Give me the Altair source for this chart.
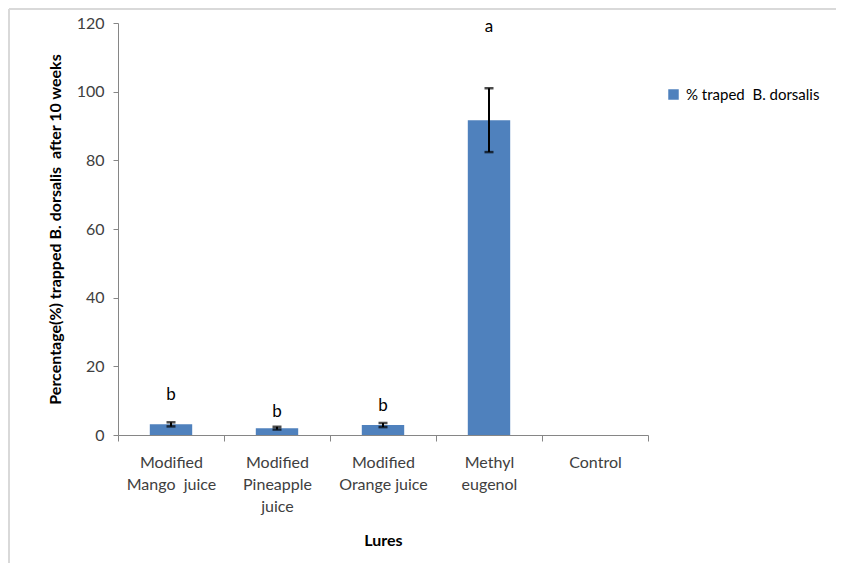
import altair as alt
import pandas as pd

lures = ["Modified\nMango\u00a0 juice", "Modified\nPineapple\njuice", "Modified\nOrange juice", "Methyl\neugenol", "Control"]
values = [3.1, 2.0, 2.9, 91.7, 0.0]
errors = [0.6, 0.4, 0.6, 9.3, 0.0]
letters = ["b", "b", "b", "a", ""]
letter_y = [11.7, 6.7, 8.4, 118.8, 0.0]
series = "% traped\u00a0 B. dorsalis"

df = pd.DataFrame({
    "Lure": lures,
    "value": values,
    "lo": [v - e for v, e in zip(values, errors)],
    "hi": [v + e for v, e in zip(values, errors)],
    "err": errors,
    "letter": letters,
    "ly": letter_y,
    "series": [series] * len(lures),
})

FONT = "Lato"
BLUE = "#4F81BD"

x = alt.X(
    "Lure:N", sort=lures, title="Lures",
    scale=alt.Scale(paddingInner=0, paddingOuter=0),
    axis=alt.Axis(
        labelExpr="split(datum.label, '\\n')", labelAngle=0, labelLineHeight=22,
        labelFontSize=16, labelColor="#404040", labelFont=FONT, labelPadding=13,
        labelBaseline="top",
        tickBand="extent", tickSize=6, tickColor="#868686", domainColor="#868686",
        titleFont=FONT, titleFontSize=16, titleFontWeight="bold", titleColor="#000000",
        titleX=265, titleY=105, titleBaseline="middle", titleAnchor="middle",
    ),
)

y_scale = alt.Scale(domain=[0, 120], nice=False)

bars = alt.Chart(df).mark_bar(width=alt.RelativeBandSize(0.4)).encode(
    x=x,
    y=alt.Y(
        "value:Q", scale=y_scale,
        title="Percentage(%) trapped B. dorsalis\u00a0 after 10 weeks",
        axis=alt.Axis(
            values=[0, 20, 40, 60, 80, 100, 120], grid=False, tickSize=5,
            tickColor="#868686", domainColor="#868686",
            labelFontSize=16, labelColor="#404040", labelFont=FONT, labelPadding=9,
            titleFont=FONT, titleFontSize=16, titleFontWeight="bold", titleColor="#000000",
            titleX=-63, titleY=206, titleBaseline="middle", titleAngle=-90, titleAnchor="middle",
        ),
    ),
    color=alt.Color(
        "series:N", scale=alt.Scale(range=[BLUE]),
        legend=alt.Legend(
            title=None, orient="none", legendX=548, legendY=64,
            symbolType="square", symbolSize=110, symbolStrokeWidth=0,
            labelFont=FONT, labelFontSize=15, labelColor="#000000", labelOffset=5,
            labelLimit=300,
        ),
    ),
)

rules = alt.Chart(df[df["err"] > 0]).mark_rule(color="#000000", strokeWidth=2).encode(
    x=alt.X("Lure:N", sort=lures), y=alt.Y("lo:Q", scale=y_scale), y2="hi:Q"
)
caps_hi = alt.Chart(df[df["err"] > 0]).mark_tick(color="#000000", thickness=2.5, size=9, orient="horizontal").encode(
    x=alt.X("Lure:N", sort=lures), y=alt.Y("hi:Q", scale=y_scale)
)
caps_lo = alt.Chart(df[df["err"] > 0]).mark_tick(color="#000000", thickness=2.5, size=9, orient="horizontal").encode(
    x=alt.X("Lure:N", sort=lures), y=alt.Y("lo:Q", scale=y_scale)
)
texts = alt.Chart(df[df["letter"] != ""]).mark_text(
    font=FONT, fontSize=17, color="#000000", baseline="middle", fontWeight="normal"
).encode(
    x=alt.X("Lure:N", sort=lures), y=alt.Y("ly:Q", scale=y_scale), text="letter:N"
)

frame_left = alt.Chart(df.head(1)).mark_rule(color="#d9d9d9", strokeWidth=2).encode(
    x=alt.value(-109), y=alt.value(-14), y2=alt.value(560)
)
frame_top = alt.Chart(df.head(1)).mark_rule(color="#d9d9d9", strokeWidth=2).encode(
    x=alt.value(-109), x2=alt.value(720), y=alt.value(-14)
)

chart = alt.layer(frame_left, frame_top, bars, rules, caps_hi, caps_lo, texts).properties(
    width=530, height=412,
    autosize=alt.AutoSizeParams(type="none"),
    padding={"left": 110, "top": 15, "right": 188, "bottom": 128},
    background="white",
).configure_view(stroke=None)

chart.save("out.html", embed_options={"renderer": "svg", "actions": False})
